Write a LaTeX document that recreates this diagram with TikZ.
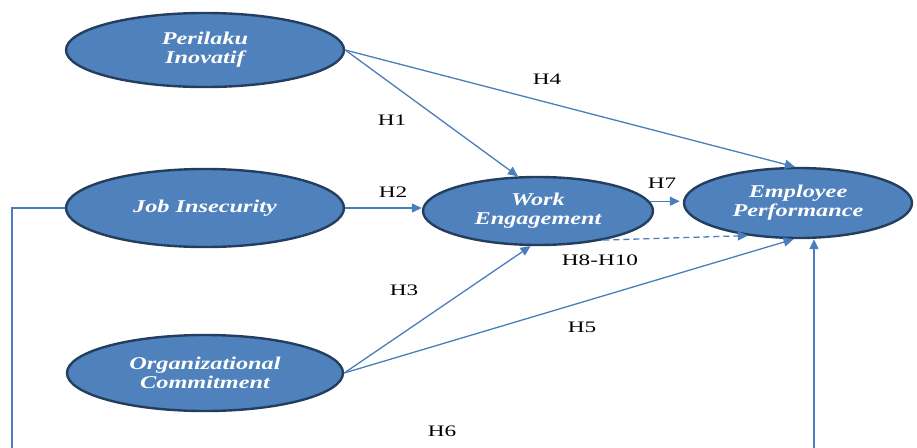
\documentclass[tikz,border=0pt]{standalone}
\usepackage{fontspec}
\setmainfont{Liberation Serif}
\newfontfamily\nodefont[FakeStretch=1.35]{Liberation Serif}
\newfontfamily\labfont[FakeStretch=1.45]{Liberation Serif}
\usetikzlibrary{shapes.geometric,arrows.meta}
\definecolor{fillblue}{HTML}{4F81BD}
\definecolor{edgeblue}{HTML}{233E5F}
\definecolor{lineblue}{HTML}{4A7EBB}
\begin{document}
\begin{tikzpicture}[x=1pt,y=-1pt,
  var/.style={ellipse, draw=edgeblue, line width=2.4pt, fill=fillblue, text=white,
    font=\nodefont\fontsize{18}{19}\selectfont\bfseries\itshape, align=center, inner sep=0pt},
  hyp/.style={font=\labfont\fontsize{16}{18}\selectfont, text=black, inner sep=0pt},
  conn/.style={draw=lineblue, line width=1.3pt, -{Triangle[length=10pt,width=9pt]}}]
\useasboundingbox (0,0) rectangle (917,447);
\clip (0,0) rectangle (917,447);

\node[var, minimum width=278pt, minimum height=74pt] (PI) at (205,50) {Perilaku\\Inovatif};
\node[var, minimum width=278pt, minimum height=78pt] (JI) at (205,208) {\raisebox{3pt}{Job Insecurity}};
\node[var, minimum width=276pt, minimum height=76pt] (OC) at (205,373) {Organizational\\Commitment};
\node[var, minimum width=230pt, minimum height=68pt] (WE) at (538,211) {Work\\Engagement};
\node[var, minimum width=228pt, minimum height=70pt] (EP) at (798,203) {Employee\\Performance};

\draw[conn] (PI.east) -- (WE.120);
\draw[conn] (PI.east) -- (EP.95);
\draw[conn] (JI.east) -- (JI.east -| WE.west);
\draw[conn, shorten >=3pt] (WE.5) -- (WE.5 -| EP.west);
\draw[conn, dash pattern=on 6pt off 4pt] (WE.-24) -- (EP.-147);
\draw[conn] (OC.east) -- (WE.-102);
\draw[conn] (OC.east) -- (EP.-97);
\coordinate (b1) at (12,449);
\coordinate (b2) at (814,449);
\draw[conn] (JI.west) -| (b1) -- (b2) -- (b2 |- EP.south);

\node[hyp] (h1) at (392,120) {H1};
\node[hyp] (h4) at (547,79) {H4};
\node[hyp] (h2) at (393,192) {H2};
\node[hyp] (h7) at (662,183) {H7};
\node[hyp] (h810) at (600,260) {H8-H10};
\node[hyp] (h3) at (404,290) {H3};
\node[hyp] (h5) at (582,327) {H5};
\node[hyp] (h6) at (442,431) {H6};
\end{tikzpicture}
\end{document}
